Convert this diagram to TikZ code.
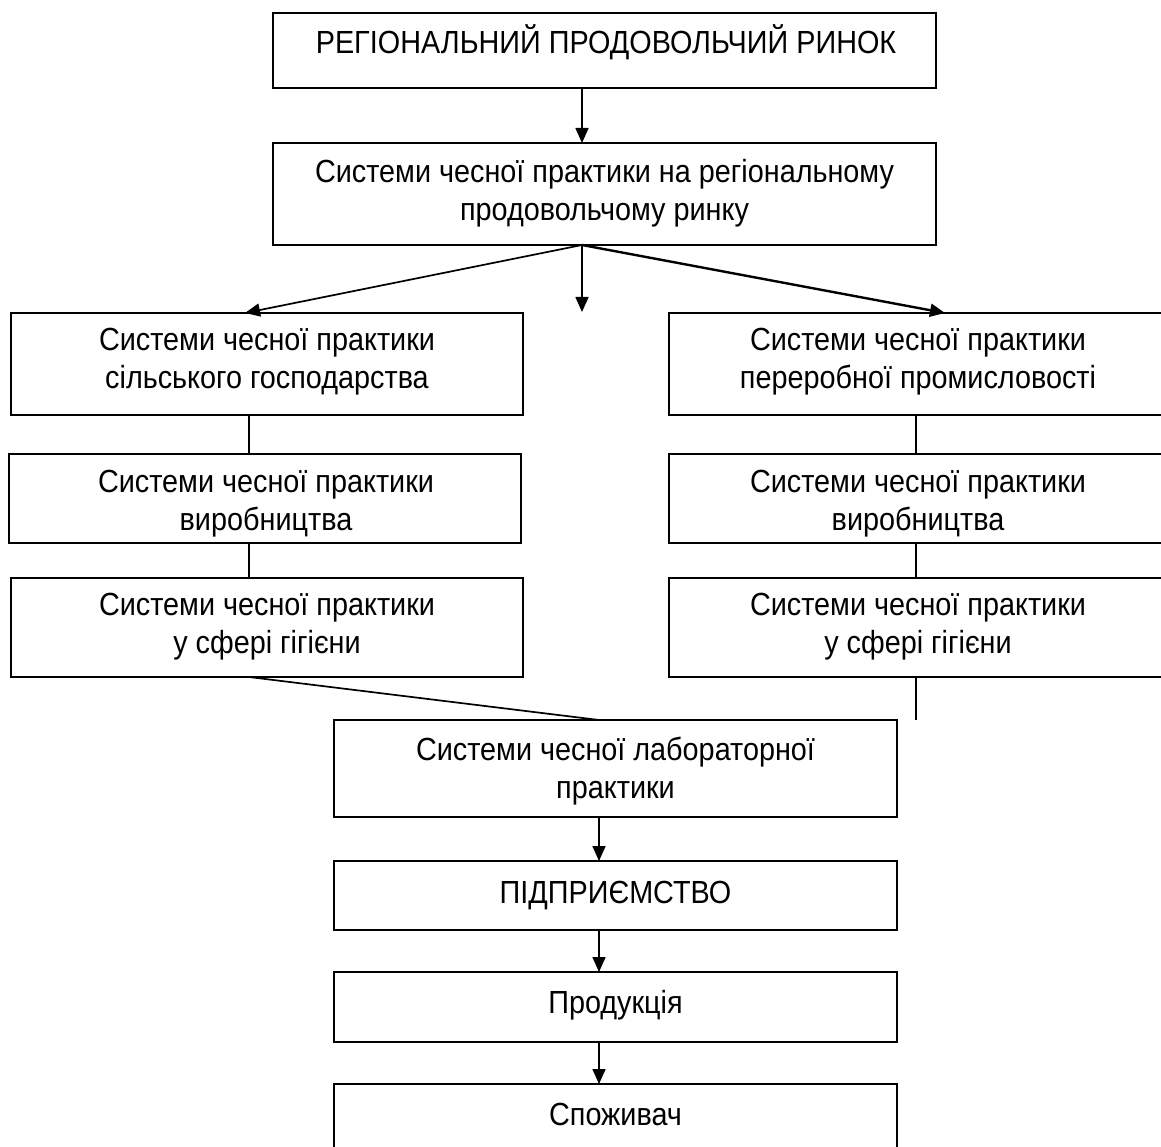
\documentclass[tikz,border=0pt]{standalone}
\usepackage{fontspec}
\setmainfont{Liberation Sans}[FakeStretch=0.9]
\usetikzlibrary{arrows.meta}
\newcommand\mystrut{\rule{0pt}{34pt}}
\begin{document}
\begin{tikzpicture}[x=1pt,y=-1pt,
  box/.style={draw, line width=1.8pt, rectangle, inner sep=0pt, outer sep=0pt},
  txt/.style={anchor=north, inner sep=0pt, outer sep=0pt, align=center, font=\fontsize{32}{38}\selectfont},
  conn/.style={line width=1.7pt},
  arr/.style={line width=1.7pt, -{Triangle[length=15pt,width=13pt]}},
  arrthick/.style={line width=2.4pt, -{Triangle[length=15pt,width=13pt]}}]
\useasboundingbox (0,0) rectangle (1161,1147);
\clip (0,0) rectangle (1161,1147);

% boxes
\node[box, minimum width=663pt, minimum height=75pt]  (top)   at (604.5,50.5) {};
\node[box, minimum width=663pt, minimum height=102pt] (sys)   at (604.5,194) {};
\node[box, minimum width=512pt, minimum height=102pt] (left1) at (267,364) {};
\node[box, minimum width=512pt, minimum height=89pt]  (left2) at (265,498.5) {};
\node[box, minimum width=512pt, minimum height=99pt]  (left3) at (267,627.5) {};
\node[box, minimum width=496pt, minimum height=102pt] (right1) at (917,364) {};
\node[box, minimum width=496pt, minimum height=89pt]  (right2) at (917,498.5) {};
\node[box, minimum width=496pt, minimum height=99pt]  (right3) at (917,627.5) {};
\node[box, minimum width=563pt, minimum height=97pt]  (lab)   at (615.5,768.5) {};
\node[box, minimum width=563pt, minimum height=69pt]  (pidp)  at (615.5,895.5) {};
\node[box, minimum width=563pt, minimum height=70pt]  (prod)  at (615.5,1007) {};
\node[box, minimum width=563pt, minimum height=81pt]  (spoz)  at (615.5,1124.5) {};

% texts (north = first baseline - 34)
\node[txt] (ttop)  at (606,20) {\mystrut РЕГІОНАЛЬНИЙ ПРОДОВОЛЬЧИЙ РИНОК};
\node[txt] (tsys)  at (604.5,149) {\mystrut Системи чесної практики на регіональному\\продовольчому ринку};
\node[txt] (tl1)   at (267,316) {\mystrut Системи чесної практики\\сільського господарства};
\node[txt] (tl2)   at (266,458) {\mystrut Системи чесної практики\\виробництва};
\node[txt] (tl3)   at (267,581) {\mystrut Системи чесної практики\\у сфері гігієни};
\node[txt] (tr1)   at (918,316) {\mystrut Системи чесної практики\\переробної промисловості};
\node[txt] (tr2)   at (918,458) {\mystrut Системи чесної практики\\виробництва};
\node[txt] (tr3)   at (918,581) {\mystrut Системи чесної практики\\у сфері гігієни};
\node[txt] (tlab)  at (615.5,726) {\mystrut Системи чесної лабораторної\\практики};
\node[txt] (tpidp) at (615.5,869) {\mystrut ПІДПРИЄМСТВО};
\node[txt] (tprod) at (615.5,979) {\mystrut Продукція};
\node[txt] (tspoz) at (615.5,1091) {\mystrut Споживач};

% helper coordinates
\coordinate (ax) at (582,0);
\coordinate (bx) at (599,0);
\coordinate (lx) at (249,0);
\coordinate (rx) at (916,0);
\coordinate (mid) at (582,312);
\coordinate (rend) at (916,720);

% connectors
\draw[arr] (top.south -| ax) -- (sys.north -| ax);
\draw[arr] (sys.south -| ax) -- ([xshift=-22pt]left1.north);
\draw[arr] (sys.south -| ax) -- (mid);
\draw[arrthick] (sys.south -| ax) -- ([xshift=28pt]right1.north);

\draw[conn] (left1.south -| lx) -- (left2.north -| lx);
\draw[conn] (left2.south -| lx) -- (left3.north -| lx);
\draw[conn] (right1.south -| rx) -- (right2.north -| rx);
\draw[conn] (right2.south -| rx) -- (right3.north -| rx);

\draw[conn] (left3.south -| lx) -- (lab.north -| bx);
\draw[conn] (right3.south -| rx) -- (rend);

\draw[arr] (lab.south -| bx) -- (pidp.north -| bx);
\draw[arr] (pidp.south -| bx) -- (prod.north -| bx);
\draw[arr] (prod.south -| bx) -- (spoz.north -| bx);
\end{tikzpicture}
\end{document}
